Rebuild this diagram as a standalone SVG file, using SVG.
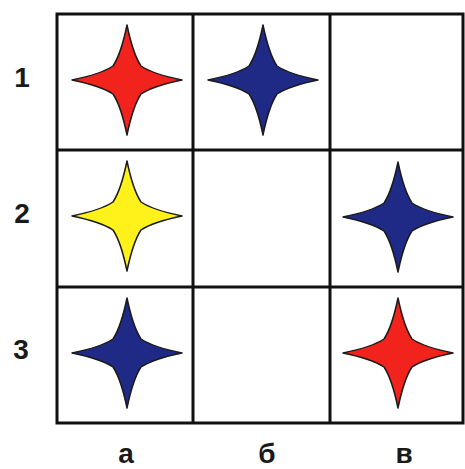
<svg xmlns="http://www.w3.org/2000/svg" width="465" height="469" viewBox="0 0 465 469">
  <defs>
    <style>
      .grid { fill: none; stroke: #111; stroke-width: 3; }
      .star { stroke: #1a1a1a; stroke-width: 1.5; stroke-linejoin: round; }
      .red { fill: #f2231c; }
      .blue { fill: #1f2a86; }
      .yellow { fill: #fff21a; }
      .lbl { font-family: "Liberation Sans", Arial, sans-serif; font-weight: bold; font-size: 28px; fill: #1a1a1a; text-anchor: middle; }
    </style>
    <path id="star" d="M0,-55 Q6,-26 14,-14 Q26,-6 55,0 Q26,6 14,14 Q6,26 0,55 Q-6,26 -14,14 Q-26,6 -55,0 Q-26,-6 -14,-14 Q-6,-26 0,-55 Z"/>
  </defs>
  <rect width="465" height="469" fill="#ffffff"/>
  <g id="grid">
    <rect class="grid" x="57" y="14" width="406" height="409"/>
    <line class="grid" x1="193" y1="14" x2="193" y2="423"/>
    <line class="grid" x1="330" y1="14" x2="330" y2="423"/>
    <line class="grid" x1="57" y1="150" x2="463" y2="150"/>
    <line class="grid" x1="57" y1="287" x2="463" y2="287"/>
  </g>
  <g id="star-a1"><use href="#star" class="star red" transform="translate(127,80)"/></g>
  <g id="star-b1"><use href="#star" class="star blue" transform="translate(263,80)"/></g>
  <g id="star-a2"><use href="#star" class="star yellow" transform="translate(127,216)"/></g>
  <g id="star-v2"><use href="#star" class="star blue" transform="translate(398,217)"/></g>
  <g id="star-a3"><use href="#star" class="star blue" transform="translate(127,353)"/></g>
  <g id="star-v3"><use href="#star" class="star red" transform="translate(398,353)"/></g>
  <g id="labels">
    <text class="lbl" x="22" y="87">1</text>
    <text class="lbl" x="22" y="223">2</text>
    <text class="lbl" x="21" y="359">3</text>
    <text class="lbl" x="126" y="463">а</text>
    <text class="lbl" x="267" y="463">б</text>
    <text class="lbl" x="404" y="463">в</text>
  </g>
</svg>
